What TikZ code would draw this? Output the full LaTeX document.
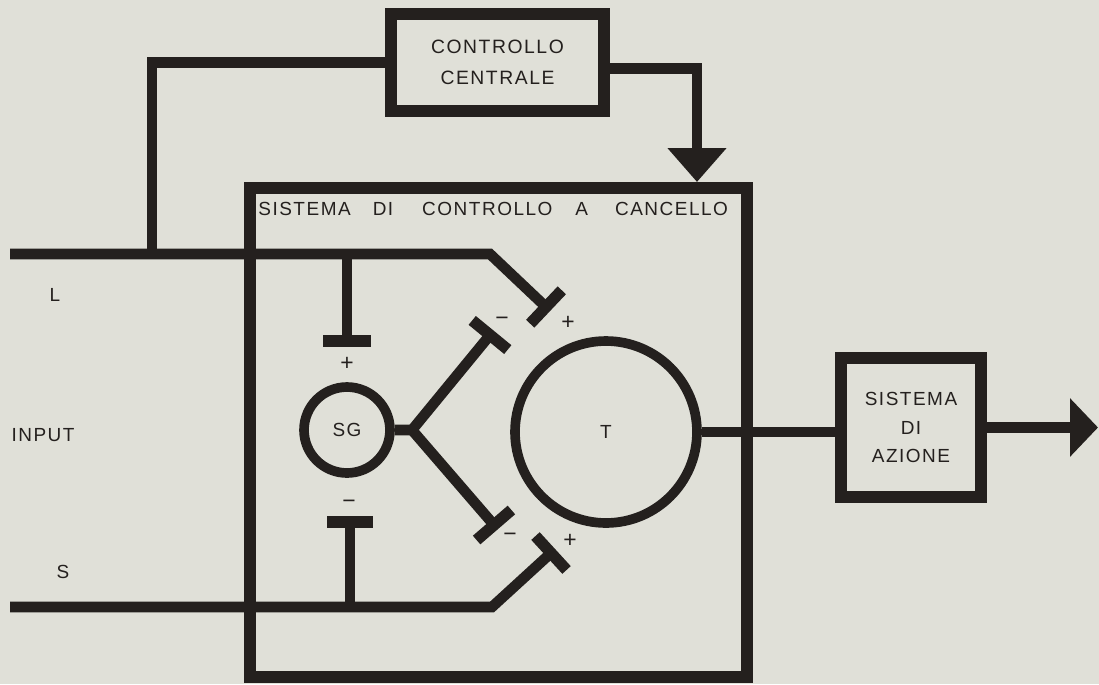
\documentclass[tikz,border=0pt]{standalone}
\usepackage{fontspec}
\setmainfont{Liberation Sans}[LetterSpace=8]
\usetikzlibrary{arrows.meta,calc}
\definecolor{paper}{RGB}{224,224,216}
\definecolor{ink}{RGB}{36,32,30}
\newcommand\mybar[3]{\draw[barline] ($(#1)!#3!90:(#2)$) -- ($(#1)!#3!-90:(#2)$);}
\begin{document}
\begin{tikzpicture}[x=0.02cm,y=-0.02cm,
  every node/.style={font=\fontsize{10.8pt}{12pt}\selectfont, text=ink},
  wire/.style={draw=ink,line width=6pt},
  boxed/.style={draw=ink,line width=6.5pt,inner sep=0pt,align=center},
  ring/.style={draw=ink,line width=5.5pt,circle,inner sep=0pt},
  barline/.style={draw=ink,line width=6.5pt},
  sign/.style={font=\fontsize{13pt}{13pt}\selectfont},
  bighead/.style={-{Triangle[length=#1,width=1.14cm]}}]
\fill[paper] (0,0) rectangle (1099,684);
\useasboundingbox (0,0) rectangle (1099,684);

% nodes
\node[boxed,minimum width=4.26cm,minimum height=1.94cm,
  font=\fontsize{11pt}{17.5pt}\selectfont] (cc) at (497.5,62.5) {CONTROLLO\\CENTRALE};
\node[boxed,minimum width=9.94cm,minimum height=9.78cm] (gate) at (498.5,432.5) {};
\node[anchor=base west,inner sep=0pt] (title) at (258,215)
  {SISTEMA\hspace{0.44cm}DI\hspace{0.58cm}CONTROLLO\hspace{0.46cm}A\hspace{0.54cm}CANCELLO};
\node[boxed,minimum width=2.8cm,minimum height=2.78cm,
  font=\fontsize{10.8pt}{16.4pt}\selectfont] (sa) at (911,427.5) {SISTEMA\\DI\\AZIONE};
\node[ring,minimum size=1.72cm] (sg) at (347,430) {SG};
\node[ring,minimum size=3.64cm] (t) at (606,432) {T};

\node (lL) at (55,295) {L};
\node (lin) at (43,435) {INPUT};
\node (lS) at (63,572) {S};

% coordinates
\coordinate (Lin) at (10,254);
\coordinate (Lk) at (490,254);
\coordinate (Lend) at (546,307);
\coordinate (Sin) at (10,607);
\coordinate (Sk) at (492,607);
\coordinate (Send) at (551,553);
\coordinate (Lfb) at (152,254);
\coordinate (Ltap) at (347,254);
\coordinate (Lbar) at (347,341);
\coordinate (Stap) at (350,607);
\coordinate (Sbar) at (350,522);
\coordinate (J) at (412,430);
\coordinate (Uend) at (490,335);
\coordinate (Dend) at (494,525);
\coordinate (gatein) at (697,182);
\coordinate (outend) at (1098,427.5);

% L input
\draw[wire] (Lin) -- (Lk) -- (Lend);
\mybar{Lend}{Lk}{0.46cm}
\draw[wire] (Lfb) |- (cc.west);
\draw[wire] (Ltap) -- (Lbar);
\mybar{Lbar}{Ltap}{0.48cm}

% S input
\draw[wire] (Sin) -- (Sk) -- (Send);
\mybar{Send}{Sk}{0.46cm}
\draw[wire] (Stap) -- (Sbar);
\mybar{Sbar}{Stap}{0.46cm}

% SG outputs
\draw[wire] (sg.east) -- (J) -- (Uend);
\mybar{Uend}{J}{0.46cm}
\draw[wire] (J) -- (Dend);
\mybar{Dend}{J}{0.46cm}

% central control
\draw[wire,bighead=0.68cm] ([yshift=-0.12cm]cc.east) -| (gatein);

% output
\draw[wire] (t.east) -- (t.east -| sa.west);
\draw[wire,bighead=0.56cm] (sa.east) -- (outend);

% signs
\node[sign] (s1) at (347,364) {+};
\node[sign] (s2) at (349,504) {−};
\node[sign] (s3) at (502,321) {−};
\node[sign] (s4) at (568,323) {+};
\node[sign] (s5) at (510,537) {−};
\node[sign] (s6) at (570,541) {+};
\end{tikzpicture}
\end{document}
